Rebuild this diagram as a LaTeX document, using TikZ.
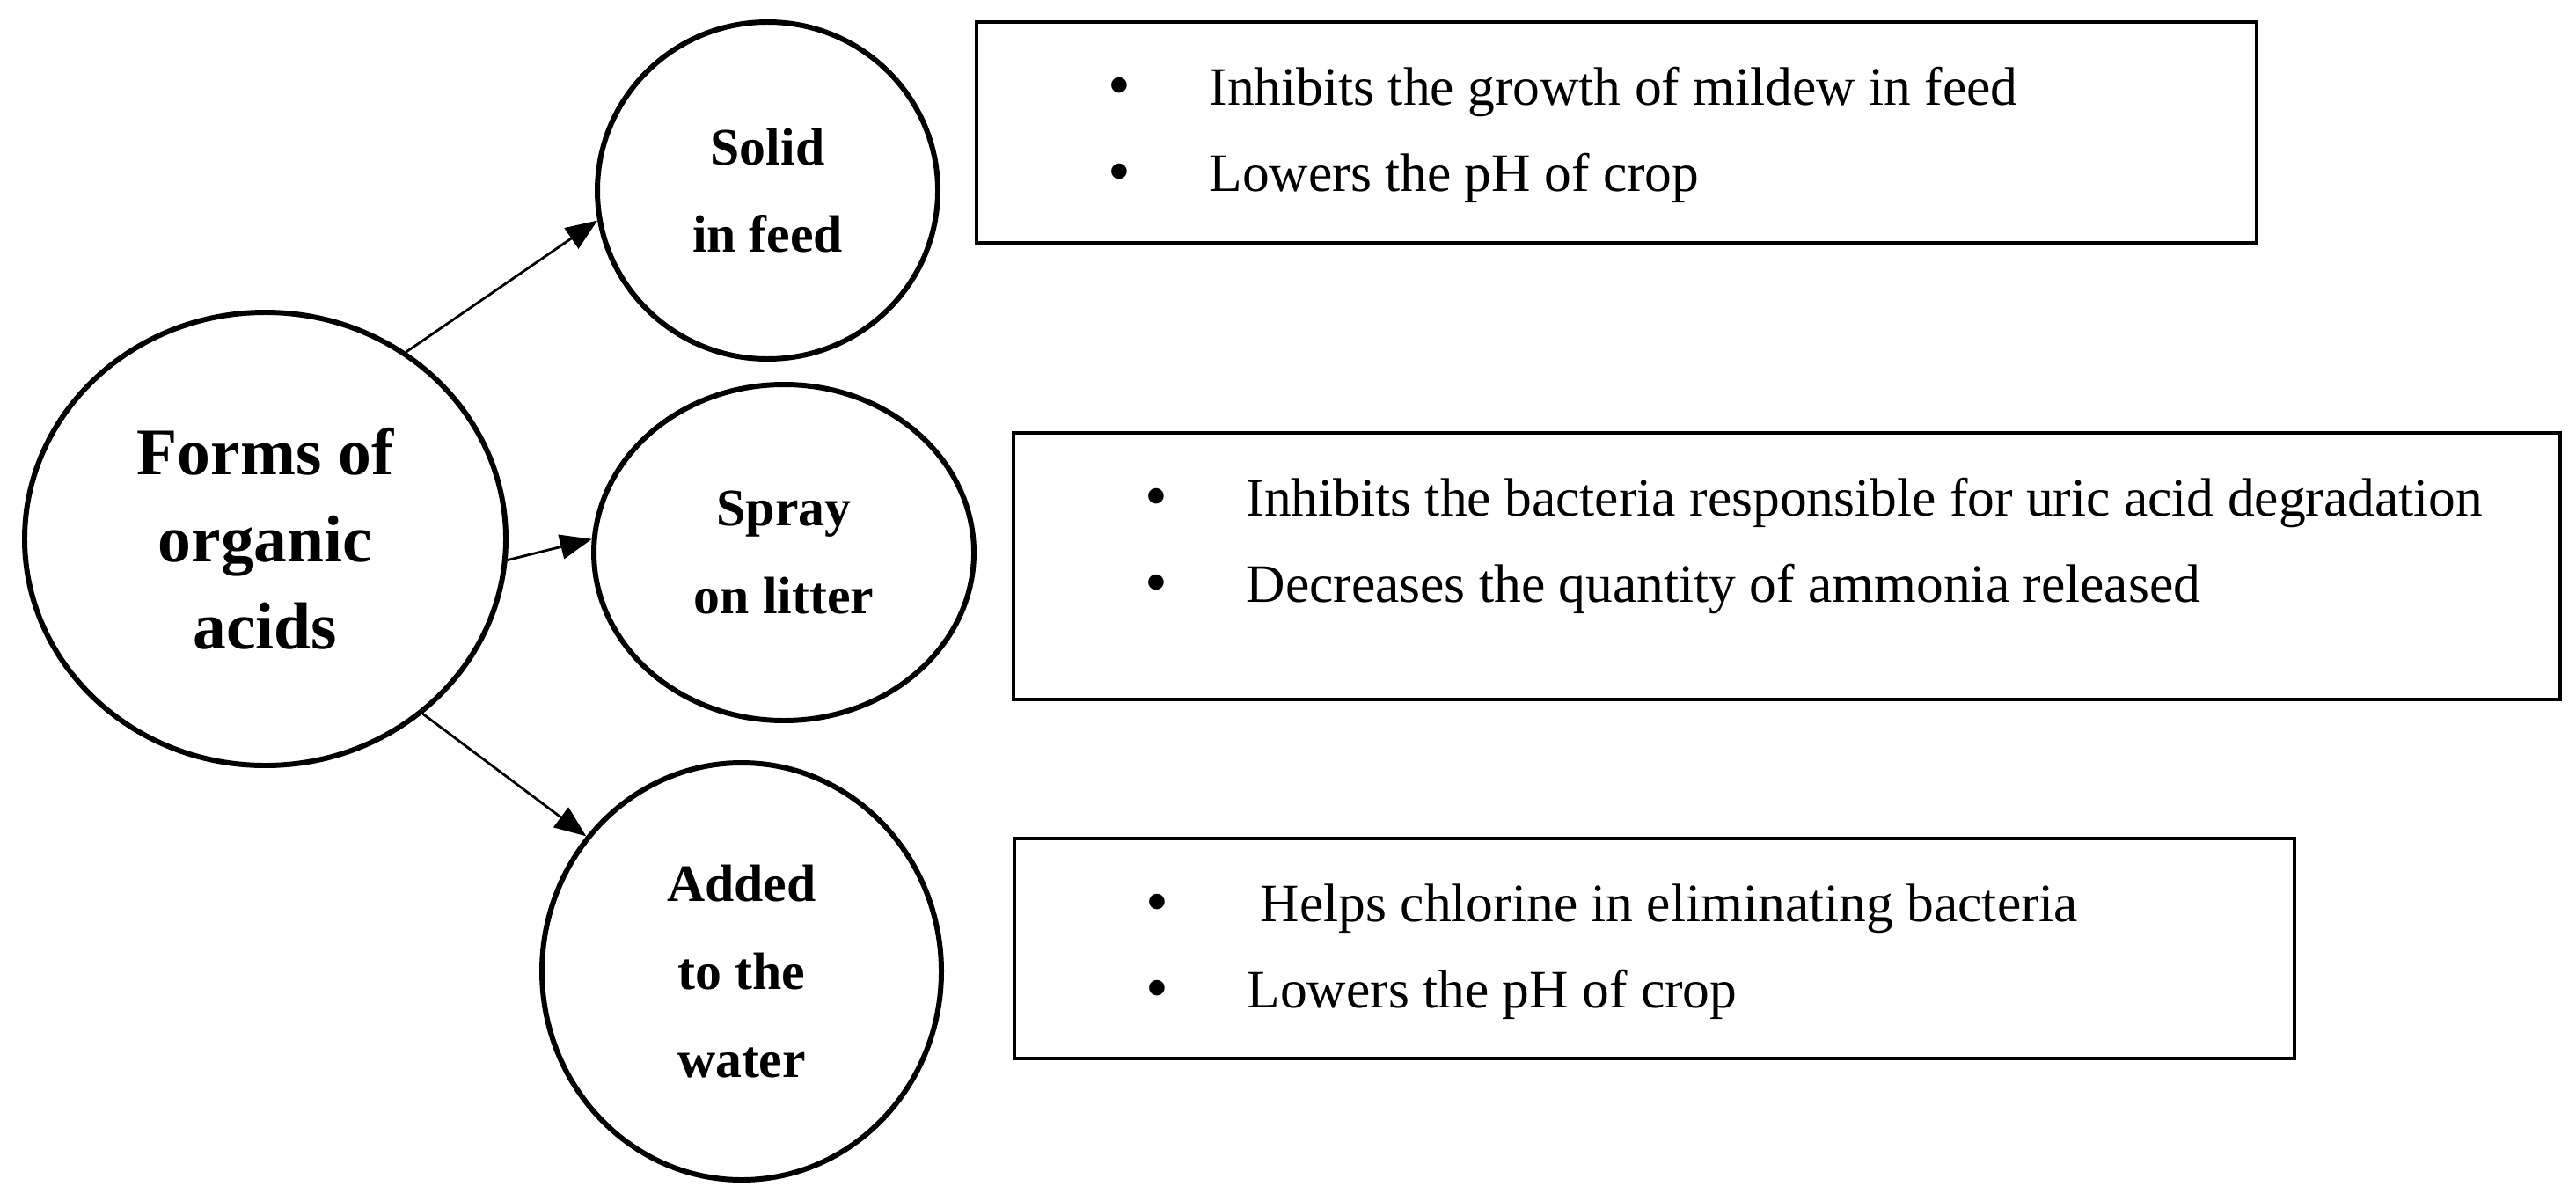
\documentclass[tikz,border=0pt]{standalone}
\usepackage{fontspec}
\setmainfont{Liberation Serif}
\usetikzlibrary{arrows.meta, shapes.geometric}
\tikzset{
    bubble/.style={draw, ellipse, line width=1.7pt, align=center,
        inner sep=0pt, font=\bfseries\fontsize{17}{28.4}\selectfont},
    infobox/.style={draw, rectangle, line width=1.2pt, inner sep=0pt},
    itemtext/.style={anchor=base west, inner sep=0pt,
        font=\fontsize{17.5}{20}\selectfont},
    itemdot/.style={anchor=base, inner sep=0pt,
        font=\fontsize{21}{20}\selectfont},
    connector/.style={-{Triangle[length=0.36cm, width=0.28cm]},
        line width=0.8pt},
}

\begin{document}
\begin{tikzpicture}
            \useasboundingbox (0, 0) rectangle (29.28, 13.64);
            % the forms
            \node[bubble, minimum width=5.47cm, minimum height=5.15cm,
                font=\bfseries\fontsize{21.5}{28.2}\selectfont]
                (acids) at (3.015, 7.515) {Forms of\\organic\\acids};
            \node[bubble, minimum width=3.87cm, minimum height=3.83cm]
                (solid) at (8.725, 11.475) {Solid\\in feed};
            \node[bubble, minimum width=4.32cm, minimum height=3.82cm]
                (spray) at (8.91, 7.36) {Spray\\on litter};
            \node[bubble, minimum width=4.54cm, minimum height=4.74cm]
                (water) at (8.43, 2.60) {Added\\to the\\water};
            \draw[connector] (acids.53.5) -- (solid.190.6);
            \draw[connector] (acids.355) -- (spray.176);
            \draw[connector] (acids.-48) -- (water.139);
            % the effects
            \node[infobox, minimum width=14.55cm, minimum height=2.51cm]
                (solidbox) at (18.375, 12.135) {};
            \node[infobox, minimum width=17.58cm, minimum height=3.03cm]
                (spraybox) at (20.31, 7.205) {};
            \node[infobox, minimum width=14.55cm, minimum height=2.50cm]
                (waterbox) at (18.805, 2.86) {};
            \foreach \bx/\itemone/\itemtwo in {
                solidbox/Inhibits the growth of mildew in feed/Lowers the pH of crop,
                spraybox/Inhibits the bacteria responsible for uric acid degradation/Decreases the quantity of ammonia released,
                waterbox/\ Helps chlorine in eliminating bacteria/Lowers the pH of crop}{
                \node[itemdot] (\bx dot1) at ([shift={(1.65, -0.99)}]\bx.north west) {\textbullet};
                \node[itemtext] (\bx item1) at ([shift={(2.66, -0.97)}]\bx.north west) {\itemone};
                \node[itemdot] (\bx dot2) at ([shift={(1.65, -1.97)}]\bx.north west) {\textbullet};
                \node[itemtext] (\bx item2) at ([shift={(2.66, -1.95)}]\bx.north west) {\itemtwo};
            }
        \end{tikzpicture}
\end{document}
